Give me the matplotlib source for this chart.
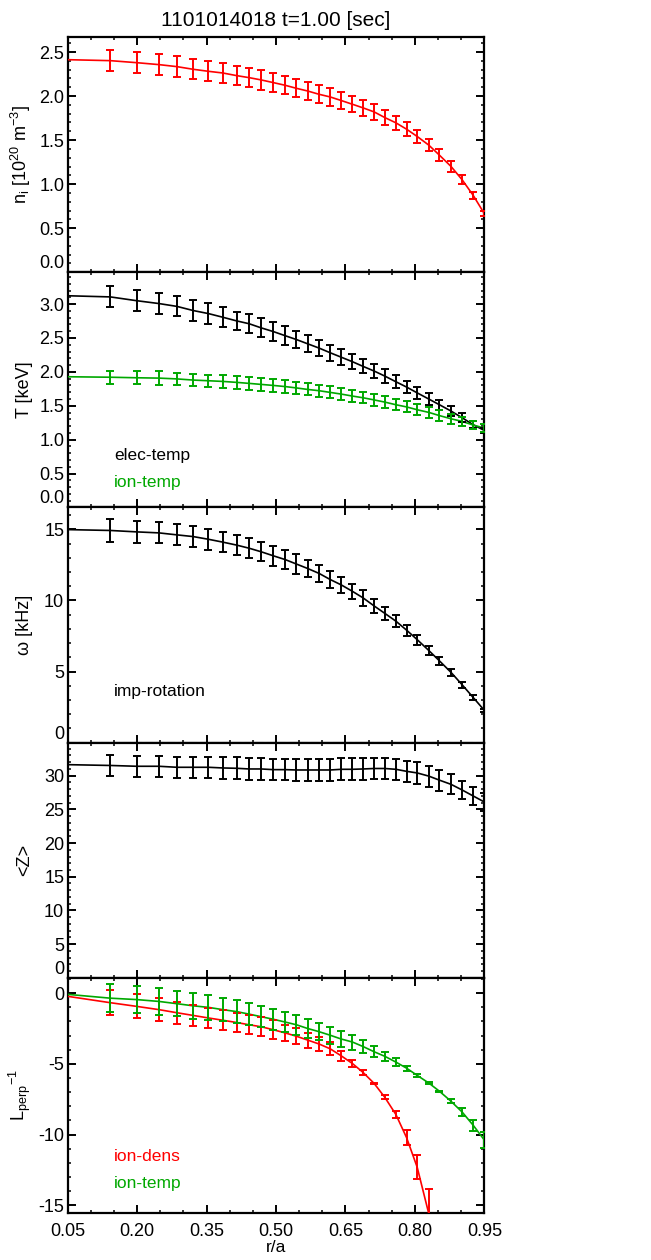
import numpy as np
import matplotlib
matplotlib.use("Agg")
import matplotlib.pyplot as plt
from matplotlib.ticker import MultipleLocator

plt.rcParams['font.family'] = ['Liberation Sans', 'DejaVu Sans']
plt.rcParams['mathtext.default'] = 'regular'
plt.rcParams['axes.unicode_minus'] = False
plt.rcParams['font.size'] = 12

RED = '#ff0000'
GREEN = '#00a800'
BLACK = '#000000'

# radial grid of the measurement points (r/a)
r = [0.142, 0.199, 0.247, 0.286, 0.321, 0.354, 0.385, 0.415, 0.442, 0.468,
     0.494, 0.520, 0.544, 0.568, 0.593, 0.617, 0.641, 0.665, 0.688, 0.712,
     0.735, 0.759, 0.782, 0.805, 0.830, 0.853, 0.878, 0.902, 0.926, 0.950]

# ion density [1e20 m^-3]
ni0 = 2.413
ni = [2.402, 2.379, 2.357, 2.334, 2.304, 2.281, 2.262, 2.232, 2.209, 2.183,
      2.153, 2.122, 2.088, 2.058, 2.020, 1.990, 1.949, 1.907, 1.866, 1.820,
      1.756, 1.696, 1.624, 1.541, 1.443, 1.329, 1.201, 1.050, 0.872, 0.665]
ni_err = [0.121, 0.121, 0.121, 0.123, 0.113, 0.113, 0.115, 0.110, 0.108, 0.111,
          0.108, 0.104, 0.102, 0.102, 0.102, 0.100, 0.098, 0.093, 0.091, 0.089,
          0.087, 0.081, 0.077, 0.076, 0.068, 0.066, 0.060, 0.053, 0.042, 0.030]

# electron / ion temperature [keV]
te0 = 3.123
te = [3.106, 3.050, 3.008, 2.966, 2.905, 2.860, 2.806, 2.752, 2.710, 2.649,
      2.595, 2.533, 2.477, 2.415, 2.351, 2.282, 2.216, 2.150, 2.081, 2.012,
      1.938, 1.854, 1.776, 1.690, 1.599, 1.515, 1.422, 1.323, 1.220, 1.136]
te_err = [0.155, 0.152, 0.150, 0.148, 0.155, 0.150, 0.145, 0.135, 0.143, 0.140,
          0.135, 0.138, 0.130, 0.123, 0.123, 0.118, 0.116, 0.108, 0.103, 0.103,
          0.103, 0.093, 0.089, 0.086, 0.084, 0.074, 0.069, 0.064, 0.049, 0.039]
ti0 = 1.928
ti = [1.921, 1.913, 1.908, 1.896, 1.879, 1.869, 1.859, 1.845, 1.830, 1.815,
      1.800, 1.783, 1.763, 1.741, 1.722, 1.697, 1.672, 1.643, 1.618, 1.586,
      1.554, 1.515, 1.483, 1.441, 1.402, 1.355, 1.308, 1.269, 1.215, 1.171]
ti_err = [0.096, 0.093, 0.098, 0.091, 0.093, 0.089, 0.093, 0.093, 0.093, 0.093,
          0.093, 0.091, 0.086, 0.089, 0.089, 0.089, 0.089, 0.089, 0.084, 0.086,
          0.084, 0.084, 0.081, 0.079, 0.079, 0.076, 0.074, 0.064, 0.059, 0.064]

# impurity rotation [kHz]
om0 = 14.98
om = [14.92, 14.82, 14.75, 14.61, 14.49, 14.30, 14.10, 13.89, 13.67, 13.42,
      13.14, 12.87, 12.56, 12.25, 11.90, 11.47, 11.09, 10.64, 10.18, 9.61,
      9.09, 8.54, 7.91, 7.24, 6.48, 5.75, 4.94, 4.07, 3.17, 2.27]
om_err = [0.81, 0.76, 0.74, 0.74, 0.75, 0.72, 0.71, 0.71, 0.70, 0.67,
          0.69, 0.68, 0.67, 0.60, 0.62, 0.61, 0.57, 0.55, 0.55, 0.48,
          0.47, 0.41, 0.39, 0.35, 0.32, 0.30, 0.22, 0.21, 0.15, 0.12]

# mean charge <Z>
z0 = 31.63
zz = [31.51, 31.39, 31.39, 31.24, 31.24, 31.24, 31.14, 31.09, 30.99, 30.99,
      30.89, 30.89, 30.84, 30.84, 30.84, 30.84, 30.94, 30.94, 30.99, 31.06,
      31.06, 30.94, 30.64, 30.40, 29.93, 29.33, 28.71, 27.87, 26.98, 26.09]
zz_err = [1.61, 1.58, 1.58, 1.58, 1.58, 1.58, 1.58, 1.63, 1.63, 1.63,
          1.58, 1.58, 1.63, 1.63, 1.63, 1.63, 1.61, 1.61, 1.63, 1.61,
          1.61, 1.58, 1.58, 1.58, 1.56, 1.56, 1.49, 1.39, 1.39, 1.35]

# inverse gradient lengths
ld0 = -0.23
ld = [-0.68, -0.94, -1.17, -1.39, -1.58, -1.76, -1.92, -2.08, -2.24, -2.38,
      -2.59, -2.82, -3.05, -3.32, -3.60, -3.94, -4.44, -4.98, -5.61, -6.39,
      -7.37, -8.59, -10.22, -12.32, -15.60]
ld_err = [0.87, 0.85, 0.80, 0.79, 0.76, 0.73, 0.70, 0.69, 0.67, 0.67,
          0.67, 0.59, 0.56, 0.53, 0.50, 0.45, 0.35, 0.23, 0.16, 0.06,
          0.14, 0.26, 0.55, 0.85, 1.77]
lt0 = -0.09
lt = [-0.36, -0.46, -0.59, -0.75, -0.90, -1.01, -1.17, -1.31, -1.49, -1.67,
      -1.85, -2.05, -2.24, -2.50, -2.73, -2.98, -3.25, -3.46, -3.78, -4.15,
      -4.47, -4.88, -5.31, -5.82, -6.36, -6.94, -7.65, -8.41, -9.35, -10.39]
lt_err = [0.97, 0.95, 0.94, 0.89, 0.90, 0.87, 0.82, 0.82, 0.79, 0.75,
          0.73, 0.72, 0.69, 0.65, 0.62, 0.59, 0.55, 0.53, 0.45, 0.40,
          0.32, 0.26, 0.18, 0.12, 0.05, 0.05, 0.14, 0.25, 0.39, 0.55]

x_ticks = [0.05, 0.20, 0.35, 0.50, 0.65, 0.80, 0.95]


def profile(ax, y0, y, err, color):
    n = len(y)
    ax.plot([0.05] + r[:n], [y0] + y, color=color, lw=1.2, zorder=3)
    ax.errorbar(r[:n], y, yerr=err, fmt='none', ecolor=color, elinewidth=1.4,
                capsize=3, capthick=1.4, zorder=4)


fig = plt.figure(figsize=(6.51, 12.6), dpi=100)
gs = fig.add_gridspec(5, 1, left=0.104, right=0.744, top=0.9706,
                      bottom=0.0373, hspace=0)
axes = [fig.add_subplot(gs[i]) for i in range(5)]
ax1, ax2, ax3, ax4, ax5 = axes

YL = 13

profile(ax1, ni0, ni, ni_err, RED)
ax1.set_ylim(0, 2.67)
ax1.set_yticks([0.0, 0.5, 1.0, 1.5, 2.0, 2.5])
ax1.set_yticklabels(['0.0', '0.5', '1.0', '1.5', '2.0', '2.5'])
ax1.yaxis.set_minor_locator(MultipleLocator(0.1))
ax1.set_ylabel('n$_i$ [10$^{20}$ m$^{-3}$]', fontsize=YL)
ax1.set_title('1101014018 t=1.00 [sec]', fontsize=15, pad=8)

profile(ax2, te0, te, te_err, BLACK)
profile(ax2, ti0, ti, ti_err, GREEN)
ax2.set_ylim(0, 3.47)
ax2.set_yticks([0.0, 0.5, 1.0, 1.5, 2.0, 2.5, 3.0])
ax2.set_yticklabels(['0.0', '0.5', '1.0', '1.5', '2.0', '2.5', '3.0'])
ax2.yaxis.set_minor_locator(MultipleLocator(0.1))
ax2.set_ylabel('T [keV]', fontsize=YL)
ax2.text(0.111, 0.203, 'elec-temp', color=BLACK, transform=ax2.transAxes,
         fontsize=12.5)
ax2.text(0.111, 0.085, 'ion-temp', color=GREEN, transform=ax2.transAxes,
         fontsize=12.5)

profile(ax3, om0, om, om_err, BLACK)
ax3.axhline(0, color='#c8c8c8', ls='--', lw=1.5, zorder=1)
ax3.set_ylim(0, 16.54)
ax3.set_yticks([0, 5, 10, 15])
ax3.yaxis.set_minor_locator(MultipleLocator(1))
ax3.set_ylabel('ω [kHz]', fontsize=YL)
ax3.text(0.111, 0.200, 'imp-rotation', color=BLACK, transform=ax3.transAxes,
         fontsize=12.5)

profile(ax4, z0, zz, zz_err, BLACK)
ax4.set_ylim(0, 34.9)
ax4.set_yticks([0, 5, 10, 15, 20, 25, 30])
ax4.yaxis.set_minor_locator(MultipleLocator(1))
ax4.set_ylabel('<Z>', fontsize=YL)

profile(ax5, ld0, ld, ld_err, RED)
profile(ax5, lt0, lt, lt_err, GREEN)
ax5.set_ylim(-15.55, 1.08)
ax5.set_yticks([-15, -10, -5, 0])
ax5.yaxis.set_minor_locator(MultipleLocator(1))
ax5.set_ylabel('L$_{perp}$$^{-1}$', fontsize=YL)
ax5.text(0.111, 0.222, 'ion-dens', color=RED, transform=ax5.transAxes,
         fontsize=12.5)
ax5.text(0.111, 0.105, 'ion-temp', color=GREEN, transform=ax5.transAxes,
         fontsize=12.5)
ax5.set_xlabel('r/a', fontsize=12.5, labelpad=0)

for ax in axes:
    ax.set_xlim(0.05, 0.95)
    ax.set_xticks(x_ticks)
    ax.xaxis.set_minor_locator(MultipleLocator(0.05))
    ax.tick_params(which='both', direction='in', top=True, right=True)
    ax.tick_params(which='major', length=5.5, width=1.4, labelsize=13)
    ax.tick_params(which='minor', length=2.5, width=1.1)
    ax.tick_params(axis='y', pad=2.5)
    ax.tick_params(axis='x', pad=7)
    for s in ax.spines.values():
        s.set_linewidth(1.6)
    if ax is not ax5:
        ax.tick_params(labelbottom=False)
        # bottom tick label sits just above the lower axis line
        ax.yaxis.get_major_ticks()[0].label1.set_verticalalignment('bottom')

ax5.set_xticklabels(['%.2f' % v for v in x_ticks])
fig.align_ylabels(axes)

fig.savefig('out.png', dpi=100)
